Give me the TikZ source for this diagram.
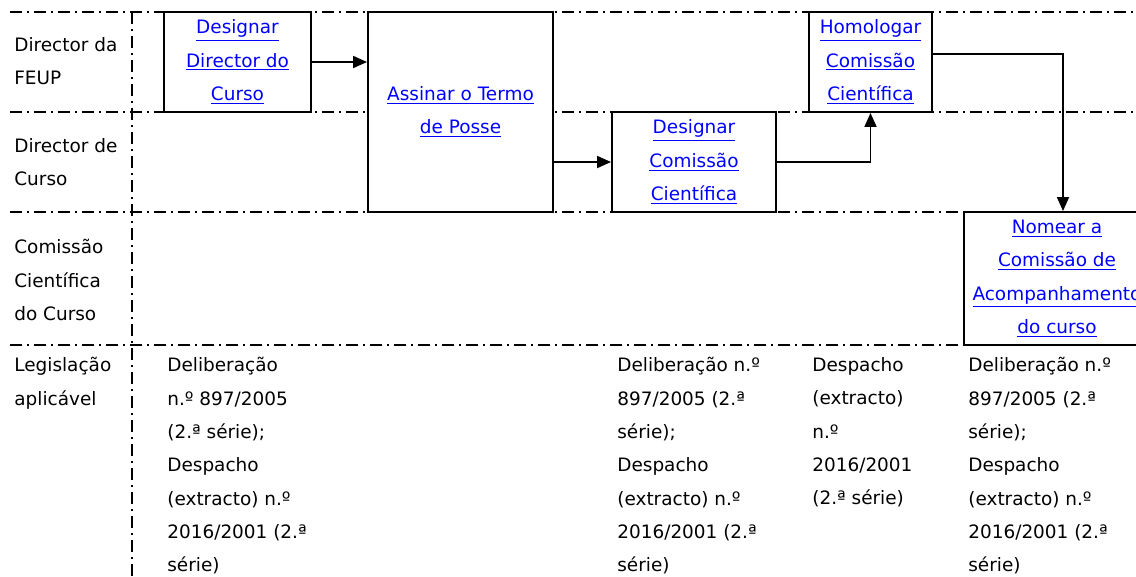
\documentclass[tikz,border=0pt]{standalone}
\usepackage{fontspec}
\setmainfont{DejaVu Sans}
\usetikzlibrary{arrows.meta}
\definecolor{linkblue}{RGB}{0,0,255}
\newcommand{\lnk}[1]{\underline{#1}}
\tikzset{
  lane/.style={line width=0.9pt, dash pattern=on 0.24cm off 0.1cm on 0.04cm off 0.1cm},
  actbox/.style={draw, line width=1.1pt, fill=white, text=linkblue, align=center, inner sep=0pt},
  lanetext/.style={anchor=north west, align=left, inner sep=0pt, execute at begin node=\strut},
  flow/.style={line width=1pt, -{Triangle[length=0.28cm,width=0.24cm]}},
}
\begin{document}
\begin{tikzpicture}[x=0.02cm, y=-0.02cm, font=\fontsize{10.5}{19}\selectfont]
\useasboundingbox (0,0) rectangle (1136,576);
\clip (0,0) rectangle (1136,576);
% swimlanes
\draw[lane] (10,12) -- (1136,12);
\draw[lane] (10,112) -- (1136,112);
\draw[lane] (10,212) -- (1136,212);
\draw[lane] (10,345) -- (1136,345);
\draw[lane] (132,12) -- (132,576);
\node[lanetext] (ffeup) at (14,37) {Director da\\FEUP};
\node[lanetext] (fcur) at (14,138) {Director de\\Curso};
\node[lanetext] (fcom) at (14,239) {Comissão\\Científica\\do Curso};
\node[lanetext] (fleg) at (14,357) {Legislação\\aplicável};
% activities
\node[actbox, minimum width=2.94cm, minimum height=2cm] (desdir) at (237.5,62)
  {\lnk{Designar}\\\lnk{Director do}\\\lnk{Curso}};
\node[actbox, minimum width=3.7cm, minimum height=4cm] (posse) at (460.5,112)
  {\lnk{Assinar o Termo}\\\lnk{de Posse}};
\node[actbox, minimum width=3.28cm, minimum height=2cm] (descom) at (694,162)
  {\lnk{Designar}\\\lnk{Comissão}\\\lnk{Científica}};
\node[actbox, minimum width=2.46cm, minimum height=2cm] (homcom) at (870.5,62)
  {\lnk{Homologar}\\\lnk{Comissão}\\\lnk{Científica}};
\node[actbox, minimum width=3.72cm, minimum height=2.66cm] (nomcom) at (1057,278.5)
  {\lnk{Nomear a}\\\lnk{Comissão de}\\\lnk{Acompanhamento}\\\lnk{do curso}};
\draw[flow] (desdir.east) -- (desdir.east -| posse.west);
\draw[flow] (descom.west -| posse.east) -- (descom.west);
\draw[flow] (descom.east) -| (homcom.south);
\draw[flow] ([yshift=0.16cm]homcom.east) -| ([xshift=0.12cm]nomcom.north);
% legislation
\node[lanetext] (leg1) at (167,357) {Deliberação\\n.º 897/2005\\(2.ª série);\\Despacho\\(extracto) n.º\\2016/2001 (2.ª\\série)};
\node[lanetext] (leg2) at (617,357) {Deliberação n.º\\897/2005 (2.ª\\série);\\Despacho\\(extracto) n.º\\2016/2001 (2.ª\\série)};
\node[lanetext] (leg3) at (812,357) {Despacho\\(extracto)\\n.º\\2016/2001\\(2.ª série)};
\node[lanetext] (leg4) at (968,357) {Deliberação n.º\\897/2005 (2.ª\\série);\\Despacho\\(extracto) n.º\\2016/2001 (2.ª\\série)};
\end{tikzpicture}
\end{document}
